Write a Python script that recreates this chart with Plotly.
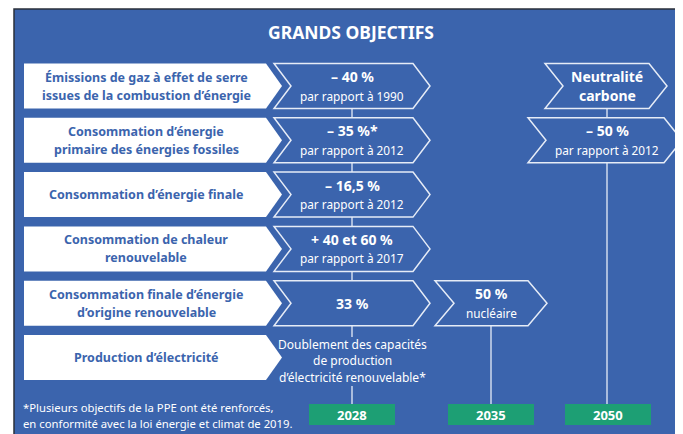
import plotly.graph_objects as go

# ---------------- data ----------------
title = "GRANDS OBJECTIFS"
row_labels = [
    ["Émissions de gaz à effet de serre", "issues de la combustion d’énergie"],
    ["Consommation d’énergie", "primaire des énergies fossiles"],
    ["Consommation d’énergie finale"],
    ["Consommation de chaleur", "renouvelable"],
    ["Consommation finale d’énergie", "d’origine renouvelable"],
    ["Production d’électricité"],
]
years = ["2028", "2035", "2050"]
# targets per year column: (row index, main text lines, sub text)
targets_2028 = [
    (0, ["– 40 %"], "par rapport à 1990"),
    (1, ["– 35 %*"], "par rapport à 2012"),
    (2, ["– 16,5 %"], "par rapport à 2012"),
    (3, ["+ 40 et 60 %"], "par rapport à 2017"),
    (4, ["33 %"], ""),
]
plain_2028 = (5, ["Doublement des capacités", "de production", "d’électricité renouvelable*"])
targets_2035 = [
    (4, ["50 %"], "nucléaire"),
]
targets_2050 = [
    (0, ["Neutralité", "carbone"], ""),
    (1, ["– 50 %"], "par rapport à 2012"),
]
footnote = ["*Plusieurs objectifs de la PPE ont été renforcés,",
            "en conformité avec la loi énergie et climat de 2019."]

# ---------------- style / layout ----------------
W, H = 683, 434
OFF = 8  # page body margin
BLUE = "#3b64ad"
LINE = "#e6ecf7"
GREEN = "#1d9f74"
FONT = "Noto Sans"

ROW_TOP0, ROW_PITCH, ROW_H = 63.5, 54.3, 45
LAB_X0, LAB_X1, LAB_TIP = 24, 266, 282
COLS = {
    "2028": dict(x0=274, x1=430, d=17, cx=352),
    "2035": dict(x0=435, x1=547, d=19, cx=491),
    "2050": dict(x0=545, x1=667, d=18, cx=607),
}
WIDE_2050 = dict(x0=528, x1=682, d=18)
YEAR_Y0, YEAR_Y1, YEAR_W = 404, 425, 86

def row_top(i):
    return ROW_TOP0 + i * ROW_PITCH

def row_mid(i):
    return row_top(i) + ROW_H / 2

def chevron(x0, x1, d, y0, y1):
    ym = (y0 + y1) / 2
    return (f"M {x0},{y0} L {x1-d},{y0} L {x1},{ym} L {x1-d},{y1} "
            f"L {x0},{y1} L {x0+d},{ym} Z")

def label_box(y0, y1):
    ym = (y0 + y1) / 2
    return (f"M {LAB_X0},{y0} L {LAB_X1},{y0} L {LAB_TIP},{ym} "
            f"L {LAB_X1},{y1} L {LAB_X0},{y1} Z")

shapes = []
annotations = []

shapes.append(dict(type="rect", x0=14, y0=9, x1=W + 5, y1=H + 5,
                   fillcolor=BLUE, line=dict(color="#2a2f3a", width=1.5), layer="below"))

def text(x, y, s, size, color="white", bold=False, anchor="center"):
    annotations.append(dict(
        x=x, y=y, xref="x", yref="y", text=f"<b>{s}</b>" if bold else s,
        showarrow=False, xanchor=anchor, yanchor="middle",
        font=dict(family=FONT, size=size, color=color)))

text(351, 32, title, 17.5, bold=True)

for i, lines in enumerate(row_labels):
    y0, y1 = row_top(i), row_top(i) + ROW_H
    shapes.append(dict(type="path", path=label_box(y0, y1), fillcolor="white",
                       line=dict(width=0)))
    cx = (LAB_X0 + LAB_X1) / 2 + 1
    n = len(lines)
    for k, s in enumerate(lines):
        text(cx, row_mid(i) + (k - (n - 1) / 2) * 18, s, 12.5, color=BLUE, bold=True)

def vline(x, ya, yb):
    shapes.append(dict(type="line", x0=x, x1=x, y0=ya, y1=yb,
                       line=dict(color=LINE, width=1.3)))

c = COLS["2028"]
vline(c["cx"], row_mid(targets_2028[0][0]), row_mid(targets_2028[-1][0]))
vline(c["cx"], row_top(4) + ROW_H, row_top(5) + 2)
vline(c["cx"], row_top(5) + ROW_H + 6, YEAR_Y0)
c = COLS["2035"]
vline(c["cx"], row_mid(targets_2035[0][0]), YEAR_Y0)
c = COLS["2050"]
vline(c["cx"], row_mid(targets_2050[0][0]), YEAR_Y0)

def draw_targets(targets, col, wide=None):
    for j, (i, mains, sub) in enumerate(targets):
        geo = col if (wide is None or j == 0) else wide
        y0, y1 = row_top(i), row_top(i) + ROW_H
        shapes.append(dict(type="path",
                           path=chevron(geo["x0"], geo["x1"], geo["d"], y0, y1),
                           fillcolor=BLUE, line=dict(color=LINE, width=1.5)))
        lines = [(m, 14, True) for m in mains] + ([(sub, 11.8, False)] if sub else [])
        n = len(lines)
        for k, (s, sz, b) in enumerate(lines):
            text(col["cx"], row_mid(i) + (k - (n - 1) / 2) * 19, s, sz, bold=b)

draw_targets(targets_2028, COLS["2028"])
draw_targets(targets_2035, COLS["2035"])
draw_targets(targets_2050, COLS["2050"], wide=WIDE_2050)

i, lines = plain_2028
for k, s in enumerate(lines):
    text(COLS["2028"]["cx"], row_mid(i) + 3 + (k - 1) * 16.5, s, 12)

for yr in years:
    cx = COLS[yr]["cx"] + (1 if yr == "2050" else 0)
    shapes.append(dict(type="rect", x0=cx - YEAR_W / 2, x1=cx + YEAR_W / 2,
                       y0=YEAR_Y0, y1=YEAR_Y1, fillcolor=GREEN, line=dict(width=0)))
    text(cx, (YEAR_Y0 + YEAR_Y1) / 2, yr, 13, bold=True)

for k, s in enumerate(footnote):
    text(21, 407 + k * 16, s, 11.3, anchor="left")

fig = go.Figure()
fig.update_layout(
    width=W - OFF, height=H - OFF, margin=dict(l=0, r=0, t=0, b=0),
    paper_bgcolor="white", plot_bgcolor="white",
    xaxis=dict(range=[OFF, W], visible=False, fixedrange=True),
    yaxis=dict(range=[H, OFF], visible=False, fixedrange=True),
    shapes=shapes, annotations=annotations, showlegend=False,
)
fig.write_html("out.html")
